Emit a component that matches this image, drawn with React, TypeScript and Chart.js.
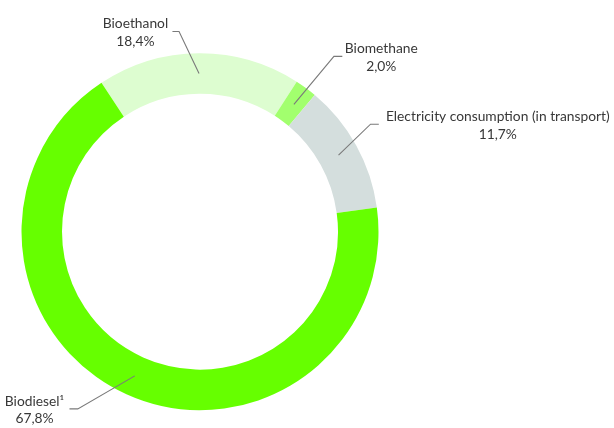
import React, { useEffect, useRef } from "react";
import { Chart, registerables } from "chart.js";

Chart.register(...registerables);

const categories = ["Bioethanol", "Biomethane", "Electricity consumption (in transport)", "Biodiesel¹"];
const shares = [18.4, 2.0, 11.7, 67.8];
const valueLabels = ["18,4%", "2,0%", "11,7%", "67,8%"];
const colors = ["#DDFDD0", "#A2FF6E", "#D4DEDD", "#66FF00"];

// leader layout: elbow offset from slice anchor, horizontal tick length, text centre offset from tick end
const leaderLayout = [
  { dx: -20, dy: -42, tick: -6.6, tx: -37, ty: -7.5 },
  { dx: 40, dy: -48, tick: 8.4, tx: 39, ty: -7.5 },
  { dx: 32, dy: -31, tick: 8.3, tx: 119, ty: -7.5 },
  { dx: -57, dy: 33, tick: -8.3, tx: -35, ty: -7.5 },
];

const labelPlugin = {
  id: "leaderLabels",
  afterDraw(chart: any) {
    const ctx = chart.ctx;
    const meta = chart.getDatasetMeta(0);
    meta.data.forEach((arc: any, i: number) => {
      const p = arc.tooltipPosition(false);
      const L = leaderLayout[i];
      const ex = p.x + L.dx;
      const ey = p.y + L.dy;
      const hx = ex + L.tick;
      ctx.save();
      ctx.strokeStyle = "#7a7a7a";
      ctx.lineWidth = 1.1;
      ctx.beginPath();
      ctx.moveTo(p.x, p.y);
      ctx.lineTo(ex, ey);
      ctx.lineTo(hx, ey);
      ctx.stroke();
      ctx.fillStyle = "#383838";
      ctx.font = "13.8px Lato";
      ctx.textAlign = "center";
      ctx.textBaseline = "middle";
      const cx = hx + L.tx;
      const cy = ey + L.ty;
      ctx.fillText(categories[i], cx, cy);
      ctx.fillText(valueLabels[i], cx, cy + 17.5);
      ctx.restore();
    });
  },
};

export default function App() {
  const ref = useRef<HTMLCanvasElement>(null);
  useEffect(() => {
    if (!ref.current) return;
    const chart = new Chart(ref.current, {
      type: "doughnut",
      data: {
        labels: categories,
        datasets: [
          {
            data: shares,
            backgroundColor: colors,
            borderWidth: 0,
          },
        ],
      },
      options: {
        animation: false,
        responsive: false,
        rotation: -33.5,
        cutout: "77.3%",
        layout: { padding: { left: 21.5, right: 235.5, top: 53.2, bottom: 17.8 } },
        plugins: {
          legend: { display: false },
          tooltip: { enabled: false },
        },
      },
      plugins: [labelPlugin],
    });
    return () => chart.destroy();
  }, []);
  return (
    <div style={{ position: "fixed", left: 0, top: 0, width: 614, height: 428, background: "#fff" }}>
      <canvas ref={ref} width={614} height={428} style={{ width: 614, height: 428 }} />
    </div>
  );
}
